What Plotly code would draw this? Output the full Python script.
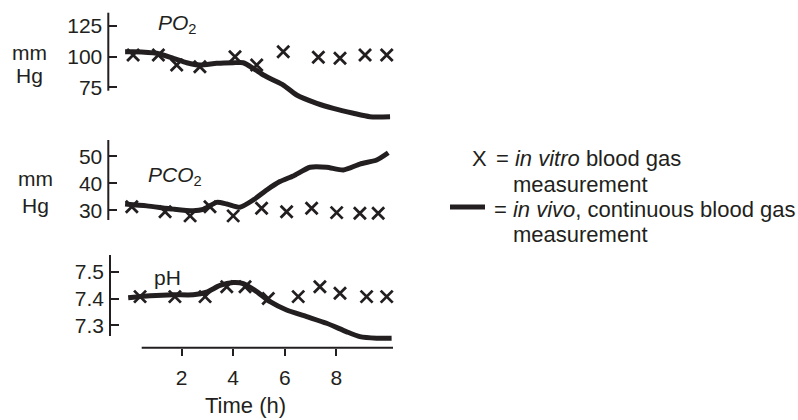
import plotly.graph_objects as go

# ---------------- data ----------------
# PO2 panel (mm Hg)
po2_vitro_t = [0.12, 1.10, 1.81, 2.71, 4.07, 4.91, 5.94, 7.30, 8.14, 9.11, 9.95]
po2_vitro_v = [101.4, 101.4, 93.2, 91.8, 100.0, 93.2, 104.0, 99.5, 98.7, 101.4, 101.4]
po2_vivo_t = [-0.19, 0.12, 1.03, 1.68, 2.20, 2.71, 3.36, 4.00, 4.39, 4.78, 5.17, 5.55, 5.94, 6.46, 7.24, 7.88, 8.66, 9.30, 10.08]
po2_vivo_v = [104.1, 104.1, 102.8, 98.7, 95.1, 93.2, 94.6, 95.1, 95.1, 90.5, 85.1, 81.0, 76.9, 68.8, 62.0, 57.9, 53.9, 51.1, 51.1]

# PCO2 panel (mm Hg)
pco2_vitro_t = [0.07, 1.36, 2.33, 3.10, 4.00, 5.10, 6.07, 7.04, 8.01, 8.91, 9.62]
pco2_vitro_v = [31.3, 29.4, 27.9, 31.3, 27.9, 30.7, 29.4, 30.7, 29.1, 28.9, 28.9]
pco2_vivo_t = [-0.19, 0.65, 1.68, 2.45, 2.84, 3.36, 3.75, 4.26, 4.78, 5.30, 5.81, 6.33, 6.98, 7.62, 8.27, 8.91, 9.56, 10.01]
pco2_vivo_v = [32.3, 31.6, 30.4, 29.8, 30.3, 32.9, 32.3, 31.1, 33.8, 37.5, 40.6, 42.7, 45.9, 45.9, 44.9, 47.1, 48.6, 51.3]

# pH panel
ph_vitro_t = [0.39, 1.74, 2.91, 3.75, 4.46, 5.36, 6.52, 7.36, 8.14, 9.17, 9.95]
ph_vitro_v = [7.407, 7.407, 7.407, 7.444, 7.444, 7.400, 7.407, 7.444, 7.420, 7.407, 7.407]
ph_vivo_t = [-0.07, 0.78, 1.68, 2.45, 2.97, 3.49, 4.00, 4.39, 4.91, 5.43, 6.07, 6.85, 7.62, 8.40, 8.91, 9.56, 10.14]
ph_vivo_v = [7.403, 7.410, 7.414, 7.414, 7.424, 7.449, 7.460, 7.456, 7.426, 7.388, 7.357, 7.332, 7.307, 7.275, 7.257, 7.251, 7.251]

# tick labels
time_ticks = [2, 4, 6, 8]
po2_ticks = [75, 100, 125]
pco2_ticks = [30, 40, 50]
ph_ticks = [7.3, 7.4, 7.5]
ph_ticktext = ["7.3", "7.4", "7.5"]

# ---------------- layout geometry ----------------
W, H = 798, 420
INK = "#231f20"
FONT = "Liberation Sans, Arial, sans-serif"


def px(x):
    return x / W


def py(y):
    return 1 - y / H


def t_at(xpix):
    return (xpix - 130.0) / 25.8


def yrange(v_ref, y_ref, ppu):
    return [v_ref - (H - y_ref) / ppu, v_ref + y_ref / ppu]


fig = go.Figure()

line_style = dict(color=INK, width=5, shape="spline", smoothing=0.6)
marker_style = dict(symbol="x-thin", size=12, line=dict(color=INK, width=2.8), color=INK)

fig.add_trace(go.Scatter(x=po2_vivo_t, y=po2_vivo_v, mode="lines", line=line_style, yaxis="y", showlegend=False))
fig.add_trace(go.Scatter(x=po2_vitro_t, y=po2_vitro_v, mode="markers", marker=marker_style, yaxis="y", showlegend=False, cliponaxis=False))
fig.add_trace(go.Scatter(x=pco2_vivo_t, y=pco2_vivo_v, mode="lines", line=line_style, yaxis="y2", showlegend=False))
fig.add_trace(go.Scatter(x=pco2_vitro_t, y=pco2_vitro_v, mode="markers", marker=marker_style, yaxis="y2", showlegend=False, cliponaxis=False))
fig.add_trace(go.Scatter(x=ph_vivo_t, y=ph_vivo_v, mode="lines", line=line_style, yaxis="y3", showlegend=False))
fig.add_trace(go.Scatter(x=ph_vitro_t, y=ph_vitro_v, mode="markers", marker=marker_style, yaxis="y3", showlegend=False, cliponaxis=False))

ax_common = dict(showgrid=False, zeroline=False, showline=False, ticks="inside", ticklen=8,
                 tickwidth=2, tickcolor=INK, tickfont=dict(family=FONT, size=21, color=INK),
                 anchor="free", side="left", domain=[0, 1], fixedrange=True, ticklabelstandoff=6)

fig.update_layout(
    width=W, height=H, autosize=False,
    margin=dict(l=0, r=0, t=0, b=0, pad=0),
    paper_bgcolor="white", plot_bgcolor="rgba(0,0,0,0)",
    xaxis=dict(range=[t_at(0), t_at(W)], domain=[0, 1], anchor="free", position=py(347.7),
               showgrid=False, zeroline=False, showline=False, ticks="outside", ticklen=7,
               tickwidth=2, tickcolor=INK, tickvals=time_ticks,
               tickfont=dict(family=FONT, size=21, color=INK), ticklabelstandoff=4),
    yaxis=dict(range=yrange(100, 56.7, 1.227), tickvals=po2_ticks, position=px(108.3), **ax_common),
    yaxis2=dict(range=yrange(40, 183.2, 2.7), tickvals=pco2_ticks, position=px(108.3), overlaying="y", **ax_common),
    yaxis3=dict(range=yrange(7.4, 298.5, 266.5), tickvals=ph_ticks, ticktext=ph_ticktext,
                position=px(110), overlaying="y", **ax_common),
)

# axis lines
shapes = [
    dict(type="line", xref="paper", yref="paper", x0=px(108.3), x1=px(108.3), y0=py(12.7), y1=py(90.7), line=dict(color=INK, width=2)),
    dict(type="line", xref="paper", yref="paper", x0=px(108.3), x1=px(108.3), y0=py(140), y1=py(220), line=dict(color=INK, width=2)),
    dict(type="line", xref="paper", yref="paper", x0=px(110), x1=px(110), y0=py(255), y1=py(336), line=dict(color=INK, width=2)),
    dict(type="line", xref="paper", yref="paper", x0=px(141.7), x1=px(393), y0=py(347.7), y1=py(347.7), line=dict(color=INK, width=2)),
    # legend line sample
    dict(type="line", xref="paper", yref="paper", x0=px(450), x1=px(485), y0=py(207), y1=py(207), line=dict(color=INK, width=5)),
]
fig.update_layout(shapes=shapes)


def ann(text, x, y, xanchor="left", size=21):
    return dict(text=text, x=px(x), y=py(y), xref="paper", yref="paper", xanchor=xanchor, yanchor="middle",
                showarrow=False, font=dict(family=FONT, size=size, color=INK))


annotations = [
    ann("mm", 29.5, 52, "center"),
    ann("Hg", 29.5, 75, "center"),
    ann("mm", 35.5, 178, "center"),
    ann("Hg", 35.5, 205, "center"),
    ann("<i>PO</i><sub>2</sub>", 156, 24),
    ann("<i>PCO</i><sub>2</sub>", 146, 176),
    ann("pH", 152, 277),
    ann("Time (h)", 245, 405, "center", 22),
    ann("X", 470, 158, "left", 22),
    ann("= <i>in vitro</i> blood gas", 494, 158, "left", 22),
    ann("measurement", 511, 184, "left", 22),
    ann("= <i>in vivo</i>, continuous blood gas", 492, 209, "left", 22),
    ann("measurement", 511, 234, "left", 22),
]
fig.update_layout(annotations=annotations)

fig.write_html("out.html")
